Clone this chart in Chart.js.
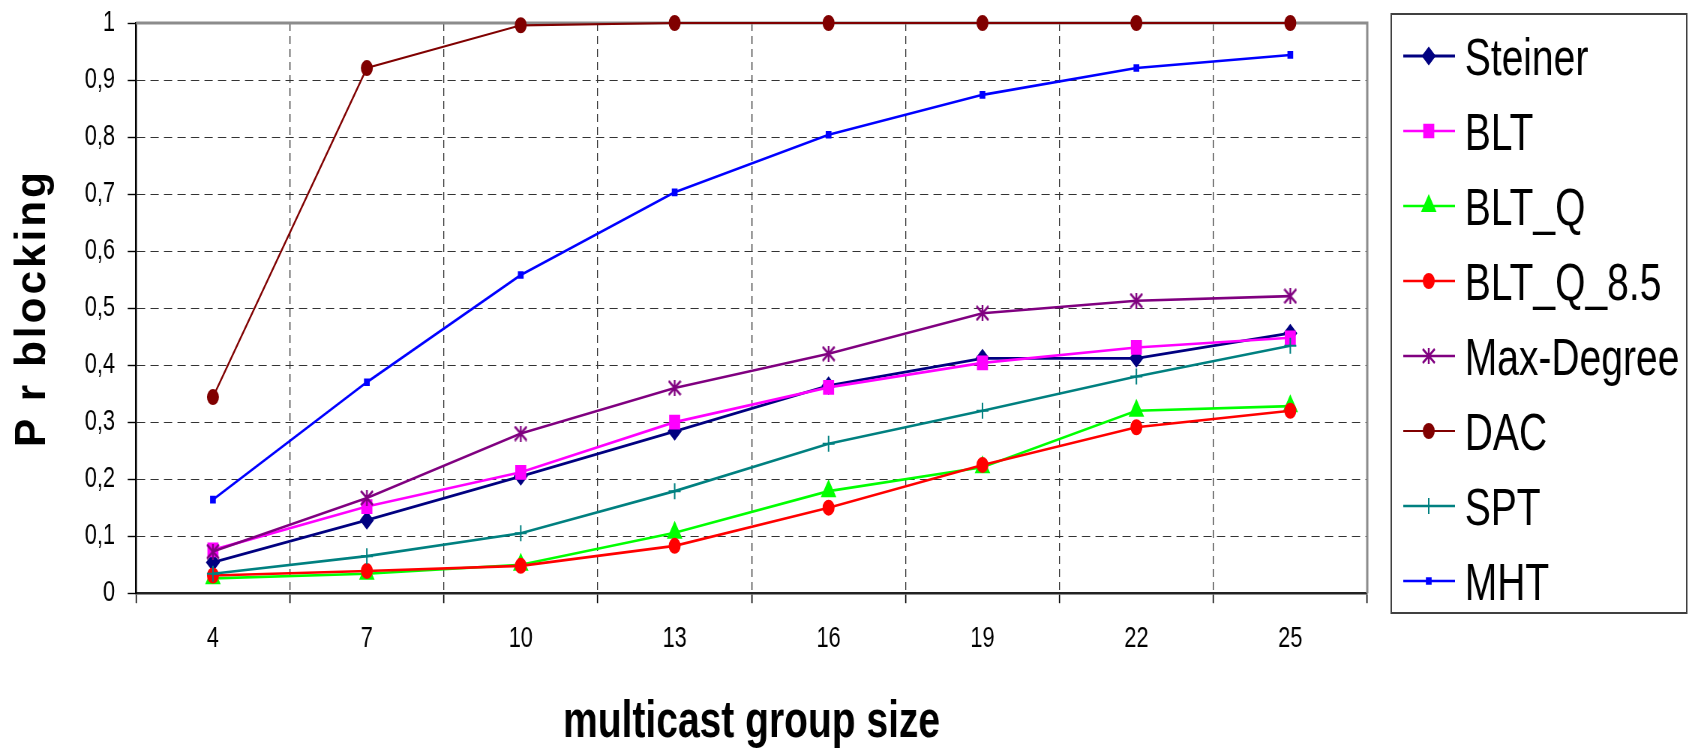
<!DOCTYPE html>
<html>
<head>
<meta charset="utf-8">
<script src="https://cdn.jsdelivr.net/npm/chart.js@4.4.0/dist/chart.umd.min.js"></script>
<style>
  html, body { margin: 0; padding: 0; background: #fff; overflow: hidden; }
  /* the original picture is squeezed horizontally, so draw wide and squeeze */
  #wrap { width: 2253px; height: 749px; transform: scaleX(0.75); transform-origin: 0 0; }
</style>
</head>
<body>
<div id="wrap"><canvas id="chart" width="2253" height="749"></canvas></div>
<script>
const groupSizes = ['4', '7', '10', '13', '16', '19', '22', '25'];

const steiner   = [0.054, 0.128, 0.205, 0.284, 0.364, 0.412, 0.412, 0.456];
const blt       = [0.076, 0.152, 0.212, 0.300, 0.361, 0.404, 0.431, 0.448];
const bltQ      = [0.026, 0.034, 0.050, 0.106, 0.179, 0.221, 0.320, 0.328];
const bltQ85    = [0.031, 0.039, 0.048, 0.083, 0.150, 0.225, 0.291, 0.320];
const maxDegree = [0.073, 0.167, 0.280, 0.360, 0.420, 0.491, 0.513, 0.521];
const dac       = [0.344, 0.921, 0.996, 1, 1, 1, 1, 1];
const spt       = [0.034, 0.065, 0.105, 0.179, 0.262, 0.320, 0.380, 0.434];
const mht       = [0.164, 0.370, 0.558, 0.703, 0.804, 0.874, 0.921, 0.944];

const seriesNames = ['Steiner', 'BLT', 'BLT_Q', 'BLT_Q_8.5', 'Max-Degree', 'DAC', 'SPT', 'MHT'];
const yTickLabels = ['0', '0,1', '0,2', '0,3', '0,4', '0,5', '0,6', '0,7', '0,8', '0,9', '1'];

const FONT = '"Liberation Sans", Arial, sans-serif';

// asterisk marker (X with a vertical bar) for Max-Degree
const asterisk = document.createElement('canvas');
asterisk.width = 18;
asterisk.height = 16;
const actx = asterisk.getContext('2d');
actx.strokeStyle = '#800080';
actx.lineWidth = 2.4;
actx.beginPath();
actx.moveTo(1, 1); actx.lineTo(17, 15);
actx.moveTo(17, 1); actx.lineTo(1, 15);
actx.moveTo(9, 0); actx.lineTo(9, 16);
actx.stroke();

const makeSeries = (i, data, color, pointStyle, radius, width) => ({
    label: seriesNames[i],
    data: data,
    borderColor: color,
    backgroundColor: color,
    borderWidth: width,
    pointStyle: pointStyle,
    pointRadius: radius,
    pointBackgroundColor: color,
    pointBorderColor: color,
    pointBorderWidth: 2,
    pointHoverRadius: radius,
    tension: 0,
    fill: false,
    clip: false,
    order: -i,
});

const datasets = [
    makeSeries(0, steiner, '#000080', 'rectRot', 8, 2.8),
    makeSeries(1, blt, '#FF00FF', 'rect', 9, 2.6),
    makeSeries(2, bltQ, '#00FF00', 'triangle', 10, 2.6),
    makeSeries(3, bltQ85, '#FF0000', 'circle', 7, 2.6),
    makeSeries(4, maxDegree, '#800080', asterisk, 8, 2.6),
    makeSeries(5, dac, '#800000', 'circle', 7, 2.2),
    makeSeries(6, spt, '#008080', 'cross', 8, 2.6),
    makeSeries(7, mht, '#0000FF', 'rect', 4, 2.6),
];

// gray frame on top and right of the plot area
const plotFrame = {
    id: 'plotFrame',
    beforeDatasetsDraw(chart) {
        const { ctx, chartArea } = chart;
        ctx.save();
        ctx.strokeStyle = '#8c8c8c';
        ctx.lineWidth = 3;
        ctx.beginPath();
        ctx.moveTo(chartArea.left, chartArea.top);
        ctx.lineTo(chartArea.right, chartArea.top);
        ctx.lineTo(chartArea.right, chartArea.bottom);
        ctx.stroke();
        ctx.restore();
    }
};

// y axis title with letter spacing
const yTitle = {
    id: 'yTitle',
    afterDraw(chart) {
        const ctx = chart.ctx;
        const text = 'P r blocking';
        ctx.save();
        ctx.translate(60, (chart.chartArea.top + chart.chartArea.bottom) / 2);
        ctx.rotate(-Math.PI / 2);
        ctx.font = 'bold 58px ' + FONT;
        ctx.letterSpacing = '4px';
        ctx.fillStyle = '#000';
        ctx.textBaseline = 'alphabetic';
        const w = ctx.measureText(text).width;
        ctx.scale(278 / w, 1);
        ctx.fillText(text, -w / 2, 0);
        ctx.restore();
    }
};

// boxed legend with line + marker samples
const legendBox = {
    id: 'legendBox',
    afterDraw(chart) {
        const ctx = chart.ctx;
        ctx.save();
        ctx.strokeStyle = '#404040';
        ctx.lineWidth = 2;
        ctx.strokeRect(1855, 14, 394, 599);
        chart.data.datasets.forEach((ds, i) => {
            const y = 56 + i * 75;
            ctx.strokeStyle = ds.borderColor;
            ctx.lineWidth = ds.borderWidth;
            ctx.beginPath();
            ctx.moveTo(1871, y);
            ctx.lineTo(1940, y);
            ctx.stroke();
            ctx.fillStyle = ds.borderColor;
            ctx.lineWidth = ds.pointBorderWidth;
            Chart.helpers.drawPoint(ctx, {
                pointStyle: ds.pointStyle,
                radius: ds.pointRadius,
                rotation: 0,
                borderWidth: ds.pointBorderWidth,
            }, 1905, y);
            ctx.fillStyle = '#000';
            ctx.font = '52px ' + FONT;
            ctx.textBaseline = 'alphabetic';
            ctx.textAlign = 'left';
            ctx.fillText(ds.label, 1953, y + 18.5);
        });
        ctx.restore();
    }
};

new Chart(document.getElementById('chart'), {
    type: 'line',
    data: {
        labels: groupSizes,
        datasets: datasets,
    },
    options: {
        responsive: false,
        animation: false,
        devicePixelRatio: 1,
        layout: {
            padding: { left: 96, right: 430, top: 23, bottom: 0 }
        },
        plugins: {
            legend: { display: false },
            tooltip: { enabled: false },
        },
        scales: {
            x: {
                type: 'category',
                offset: true,
                grid: {
                    offset: true,
                    color: (c) => (c.index === 0 || c.index >= groupSizes.length) ? 'rgba(0,0,0,0)' : '#333',
                    lineWidth: 1.3,
                    tickLength: 10,
                    tickColor: '#000',
                    tickWidth: 1.6,
                },
                border: {
                    color: '#222',
                    width: 2.5,
                    dash: [8, 5],
                },
                ticks: {
                    color: '#000',
                    padding: 18,
                    font: { family: FONT, size: 29 },
                },
                title: {
                    display: true,
                    text: 'multicast group size',
                    color: '#000',
                    font: { family: FONT, size: 52, weight: 'bold', lineHeight: 1 },
                    padding: { top: 23, bottom: 0 },
                },
            },
            y: {
                type: 'linear',
                min: 0,
                max: 1,
                grid: {
                    color: (c) => (c.tick && (c.tick.value < 0.001 || c.tick.value > 0.999)) ? 'rgba(0,0,0,0)' : '#333',
                    lineWidth: 1,
                    tickLength: 11,
                    tickColor: '#000',
                    tickWidth: 1.4,
                },
                border: {
                    color: '#000',
                    width: 2.6,
                    dash: [11, 7],
                },
                ticks: {
                    stepSize: 0.1,
                    autoSkip: false,
                    color: '#000',
                    padding: 17,
                    font: { family: FONT, size: 29, lineHeight: 0.35 },
                    callback: (value, index) => yTickLabels[index],
                },
            },
        },
    },
    plugins: [plotFrame, yTitle, legendBox],
});
</script>
</body>
</html>
